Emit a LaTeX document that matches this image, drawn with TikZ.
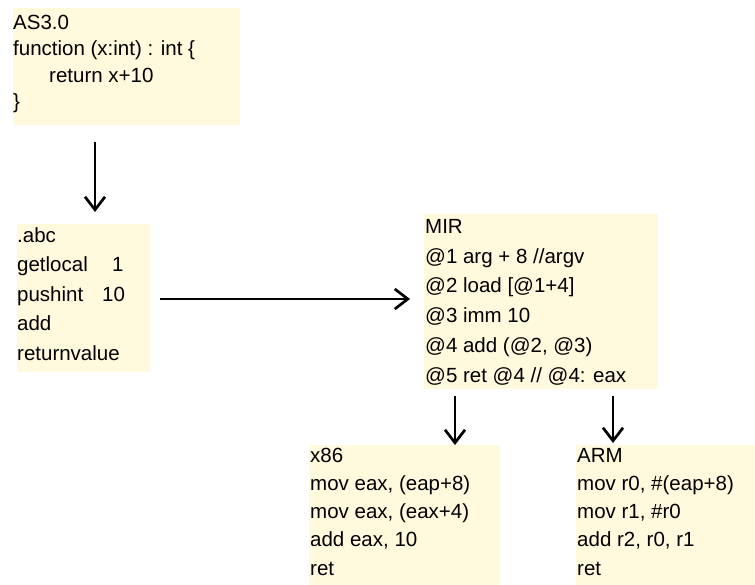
\documentclass[tikz,border=0pt]{standalone}
\usepackage{fontspec}
\setmainfont{Liberation Sans}
\usetikzlibrary{arrows.meta}

\definecolor{codebg}{RGB}{255,249,221}

\tikzset{
  codebox/.style={fill=codebg, draw=none, anchor=north west, inner sep=0pt},
  codetext/.style={anchor=north west, inner sep=0pt, align=left, text=black},
  flow/.style={line width=2.7pt, -{Straight Barb[length=13pt,width=20pt]}}
}

% first line gets a fixed height so the north anchor sits 15pt above its baseline
\newcommand{\firstln}{\rule{0pt}{15pt}}

\begin{document}
\begin{tikzpicture}[x=1pt,y=-1pt]
  \useasboundingbox (0,0) rectangle (755,585);

  % boxes
  \node[codebox, minimum width=227pt, minimum height=117pt] (as3) at (13,8) {};
  \node[codebox, minimum width=133pt, minimum height=148pt] (abc) at (17,224) {};
  \node[codebox, minimum width=234pt, minimum height=175pt] (mir) at (424,214) {};
  \node[codebox, minimum width=191pt, minimum height=140pt] (x86) at (309,445) {};
  \node[codebox, minimum width=179pt, minimum height=140pt] (arm) at (576,445) {};

  % listings
  \node[codetext, font={\fontsize{20.5}{26.5}\selectfont}] (as3t) at (13,14)
    {\firstln AS3.0\\ function (x:int) : int \{\\ \hspace*{36pt}return x+10\\ \}};
  \node[codetext, font={\fontsize{20.5}{29.5}\selectfont}] (abct) at (17,227)
    {\firstln .abc\\ \makebox[95pt][l]{getlocal}1\\ \makebox[85pt][l]{pushint}10\\ add\\ returnvalue};
  \node[codetext, font={\fontsize{20.5}{29.8}\selectfont}] (mirt) at (425,218)
    {\firstln MIR\\ @1 arg + 8 //argv\\ @2 load [@1+4]\\ @3 imm 10\\ @4 add (@2, @3)\\ @5 ret @4 // @4: eax};
  \node[codetext, font={\fontsize{20.5}{28.25}\selectfont}] (x86t) at (310,447)
    {\firstln x86\\ mov eax, (eap+8)\\ mov eax, (eax+4)\\ add eax, 10\\ ret};
  \node[codetext, font={\fontsize{20.5}{28.25}\selectfont}] (armt) at (577,447)
    {\firstln ARM\\ mov r0, \#(eap+8)\\ mov r1, \#r0\\ add r2, r0, r1\\ ret};

  % flow arrows
  \draw[flow, shorten <=17pt, shorten >=12pt] (as3.south -| 95,0) -- (abc.north -| 95,0);
  \draw[flow, shorten <=10pt, shorten >=14pt] (abc.east |- 0,299) -- (mir.west |- 0,299);
  \draw[flow, shorten <=7pt] (mir.south -| 455,0) -- (x86.north -| 455,0);
  \draw[flow, shorten <=7pt, shorten >=2pt] (mir.south -| 613,0) -- (arm.north -| 613,0);
\end{tikzpicture}
\end{document}
